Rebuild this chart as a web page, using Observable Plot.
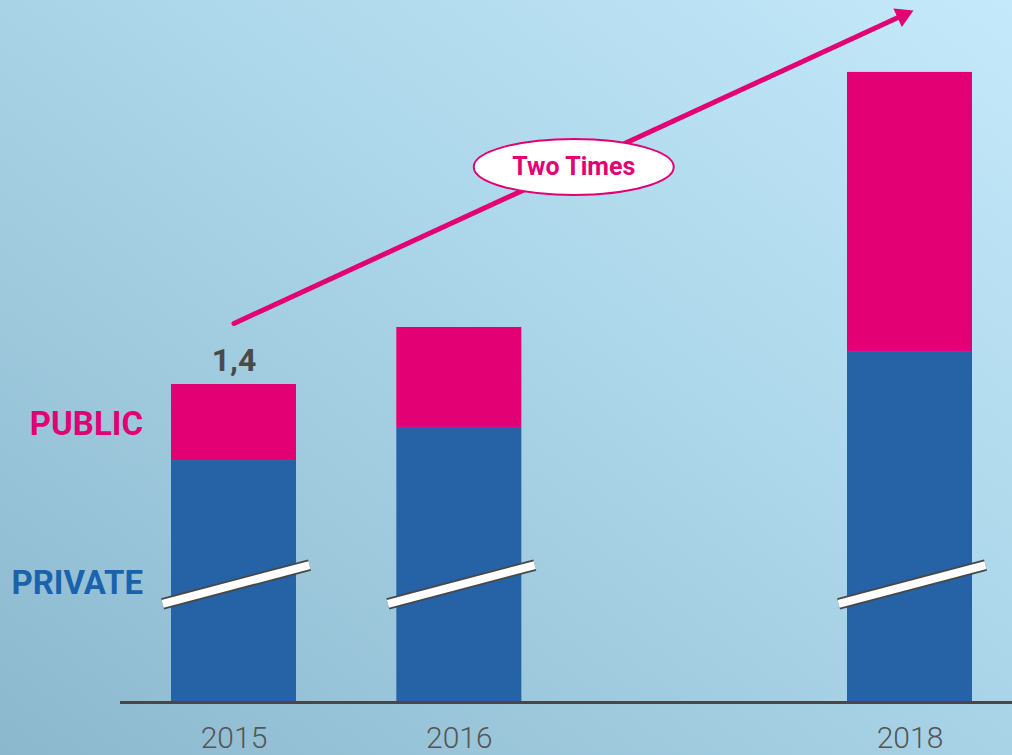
<!DOCTYPE html>
<html>
<head>
<meta charset="utf-8">
<script src="https://cdn.jsdelivr.net/npm/d3@7"></script>
<script src="https://cdn.jsdelivr.net/npm/@observablehq/plot@0.6"></script>
<style>
  html, body { margin: 0; padding: 0; background: #a6d2e6; }
  #chart { width: 1012px; height: 755px; }
</style>
</head>
<body>
<div id="chart"></div>
<script>
// ---- data ----
const years = [2015, 2016, 2018];
const privateVals = [1.065, 1.211, 1.545];
const publicVals = [0.335, 0.440, 1.229];
const totalLabel = ["1,4", "", ""];
const seriesNames = ["PUBLIC", "PRIVATE"];
const seriesLabelY = [1.224, 0.526];
const breakY = [0.434, 0.605];           // axis-break marks (left end, right end)
const arrowFrom = [2015, 1.669];
const arrowTo = [2018.0155, 3.047];
const arrowText = "Two Times";

// ---- colours ----
const PINK = "#e20074";
const BLUE = "#2662a6";
const LABEL_BLUE = "#1a62ad";

const rows = [];
years.forEach((yr, i) => {
  rows.push({year: yr, series: "PRIVATE", y1: 0, y2: privateVals[i]});
  rows.push({year: yr, series: "PUBLIC", y1: privateVals[i], y2: privateVals[i] + publicVals[i]});
});
const totals = years.map((yr, i) => ({year: yr, total: privateVals[i] + publicVals[i], label: totalLabel[i]}));
const breaks = years.map(yr => ({year: yr}));
const seriesLabels = seriesNames.map((s, i) => ({name: s, y: seriesLabelY[i]}));
const arrow = [{x1: arrowFrom[0], y1: arrowFrom[1], x2: arrowTo[0], y2: arrowTo[1]}];
const mid = [{x: (arrowFrom[0] + arrowTo[0]) / 2, y: (arrowFrom[1] + arrowTo[1]) / 2, t: arrowText}];

const pxPerYear = 225.33;
const halfW = 62.5 / pxPerYear;
const xDomain = [2015 - 233.5 / pxPerYear, 2018 + 102.5 / pxPerYear];
const yMax = 702 / 227.14;

const ellipseSymbol = {
  draw(ctx) {
    const rx = 100, ry = 28, k = 0.5523;
    ctx.moveTo(rx, 0);
    ctx.bezierCurveTo(rx, ry * k, rx * k, ry, 0, ry);
    ctx.bezierCurveTo(-rx * k, ry, -rx, ry * k, -rx, 0);
    ctx.bezierCurveTo(-rx, -ry * k, -rx * k, -ry, 0, -ry);
    ctx.bezierCurveTo(rx * k, -ry, rx, -ry * k, rx, 0);
    ctx.closePath();
  }
};

const chart = Plot.plot({
  width: 1012,
  height: 755,
  marginLeft: 0,
  marginRight: 0,
  marginTop: 0,
  marginBottom: 53,
  style: {
    background: "linear-gradient(to top right, #8cb8cd 0%, #a8d3e7 50%, #c4e9fa 100%)",
    fontFamily: "Roboto, 'Open Sans', sans-serif",
    overflow: "visible"
  },
  x: {type: "linear", domain: xDomain, axis: null},
  y: {domain: [0, yMax], axis: null},
  color: {domain: ["PRIVATE", "PUBLIC"], range: [BLUE, PINK]},
  marks: [
    Plot.rect(rows, {x1: d => d.year - halfW, x2: d => d.year + halfW, y1: "y1", y2: "y2", fill: "series"}),
    Plot.ruleY([0], {x1: 2015 - 113.5 / pxPerYear, x2: xDomain[1], stroke: "#474747", strokeWidth: 3}),
    // axis-break marks
    Plot.link(breaks, {x1: d => d.year - 0.317, x2: d => d.year + 0.335, y1: breakY[0], y2: breakY[1], stroke: "#474747", strokeWidth: 11.5}),
    Plot.link(breaks, {x1: d => d.year - 0.317, x2: d => d.year + 0.335, y1: breakY[0], y2: breakY[1], stroke: "white", strokeWidth: 8}),
    // total label
    Plot.text(totals.filter(d => d.label), {x: "year", y: "total", text: "label", dy: -24, fontSize: 32, fontWeight: "bold", fill: "#4a4a4a"}),
    // series labels
    Plot.text(seriesLabels, {x: years[0], y: "y", text: "name", dx: -91, textAnchor: "end", fontSize: 33, fontWeight: "bold",
      fill: d => d.name === "PUBLIC" ? PINK : LABEL_BLUE}),
    // growth arrow
    Plot.arrow(arrow, {x1: "x1", y1: "y1", x2: "x2", y2: "y2", stroke: PINK, strokeWidth: 5, headLength: 0, insetEnd: 14}),
    Plot.dot(arrow, {x: "x2", y: "y2", symbol: "triangle", r: 7.5, fill: PINK, stroke: "none", rotate: 65.2, dx: -10.6, dy: 4.9}),
    Plot.dot(mid, {x: "x", y: "y", symbol: ellipseSymbol, r: 10, fill: "white", stroke: PINK, strokeWidth: 2}),
    Plot.text(mid, {x: "x", y: "y", text: "t", fontSize: 25, fontWeight: "bold", fill: PINK}),
    // year labels
    Plot.axisX(years, {tickSize: 0, tickPadding: 24, tickFormat: d => String(d), fontSize: 30, fontWeight: 300, fill: "#555", color: "#555"})
  ]
});
document.getElementById("chart").appendChild(chart);
</script>
</body>
</html>
